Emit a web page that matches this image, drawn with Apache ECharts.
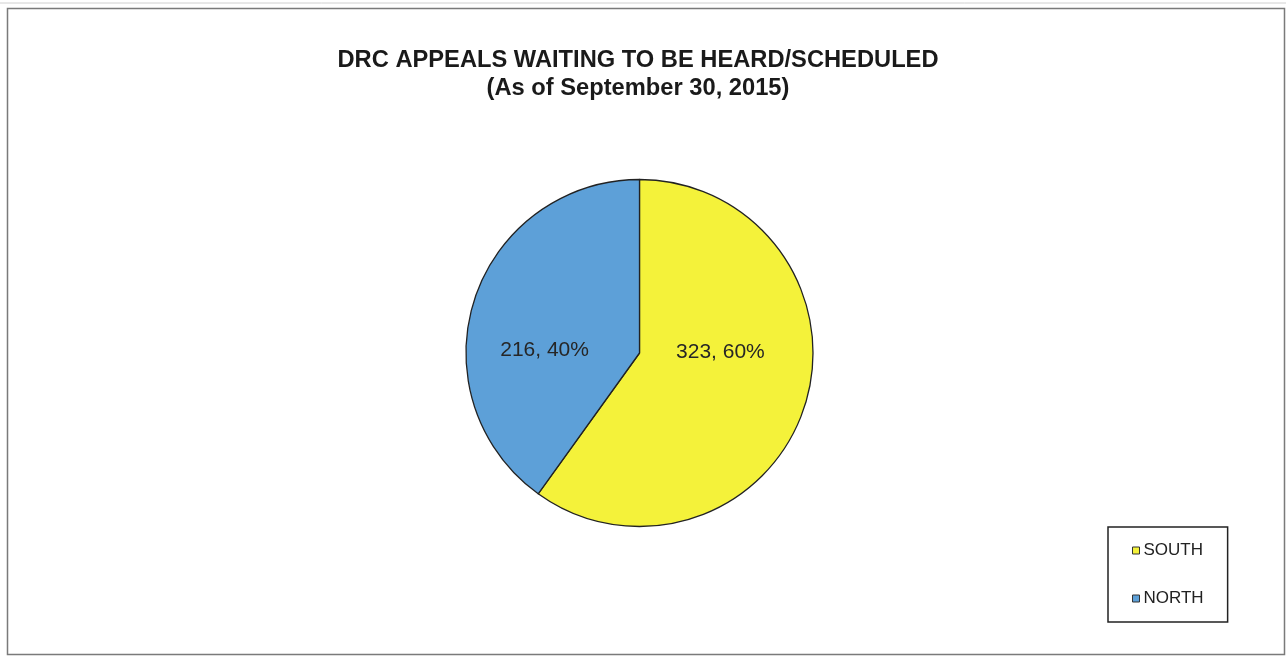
<!DOCTYPE html>
<html>
<head>
<meta charset="utf-8">
<script src="https://cdn.jsdelivr.net/npm/echarts@6/dist/echarts.min.js"></script>
<style>
html,body{margin:0;padding:0;background:#fff;}
#c{width:1286px;height:658px;}
</style>
</head>
<body>
<div id="c"></div>
<script>
const titleLines = ['DRC APPEALS WAITING TO BE HEARD/SCHEDULED', '(As of September 30, 2015)'];
const categories = ['SOUTH', 'NORTH'];
const values = [323, 216];
const colors = ['#F4F23A', '#5DA0D8'];
const labelOffsets = [[-4.5, -28], [-9.5, 25]];

const chart = echarts.init(document.getElementById('c'));
chart.setOption({
  backgroundColor: '#fff',
  animation: false,
  graphic: [
    { type: 'line', shape: { x1: 0, y1: 3, x2: 1286, y2: 3 }, style: { stroke: '#d0d0d0', lineWidth: 1 } },
    { type: 'rect', shape: { x: 7.5, y: 8.5, width: 1277, height: 646 }, style: { fill: 'none', stroke: '#7a7a7a', lineWidth: 1.5 } }
  ],
  title: {
    text: titleLines.join('\n'),
    left: 633, top: 41, textAlign: 'center',
    textStyle: { fontFamily: 'Liberation Sans, Arial, sans-serif', fontSize: 23.7, fontWeight: 'bold', color: '#1a1a1a', lineHeight: 28 }
  },
  legend: {
    orient: 'vertical',
    left: 1108, top: 527,
    padding: [15, 24, 15, 24],
    borderColor: '#222', borderWidth: 1.5,
    itemWidth: 7, itemHeight: 7, itemGap: 31,
    icon: 'rect',
    itemStyle: { borderColor: '#333', borderWidth: 1 },
    textStyle: { fontFamily: 'Liberation Sans, Arial, sans-serif', fontSize: 17, color: '#222', padding: [0, 0, 0, -1] },
    data: categories
  },
  series: [{
    type: 'pie',
    center: [639.5, 353],
    radius: 173.5,
    startAngle: 90,
    clockwise: true,
    percentPrecision: 0,
    itemStyle: { borderColor: '#222', borderWidth: 1.3 },
    label: {
      show: true, position: 'inner',
      formatter: '{c}, {d}%',
      fontFamily: 'Liberation Sans, Arial, sans-serif', fontSize: 21, color: '#262626'
    },
    labelLine: { show: false },
    emphasis: { disabled: true },
    data: categories.map((name, i) => ({
      name: name, value: values[i],
      itemStyle: { color: colors[i] },
      label: { offset: labelOffsets[i] }
    }))
  }]
});
</script>
</body>
</html>
